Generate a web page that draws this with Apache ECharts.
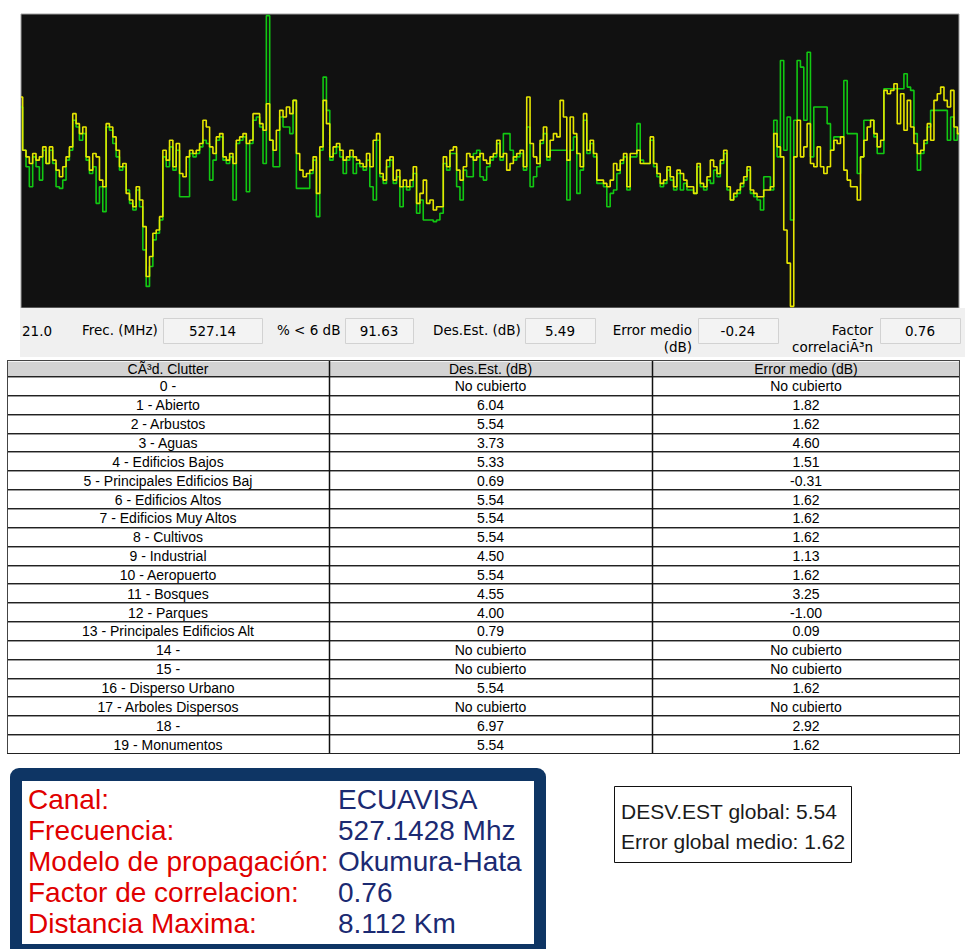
<!DOCTYPE html>
<html><head><meta charset="utf-8">
<script src="https://cdn.jsdelivr.net/npm/echarts@6/dist/echarts.min.js"></script>
<style>html,body{margin:0;padding:0;background:#fff}#c{width:965px;height:949px}</style>
</head><body><div id="c"></div>
<script>
const yellowLevels = [
63.5,47.5,45.5,43.5,46.5,44.5,45.5,48.5,43.5,48.5,
44.5,41.5,39.5,42.5,45.5,48.5,58.5,55.5,52.5,54.5,
45.5,41.5,46.5,45.5,38.5,36.5,55.5,54.5,51.5,47.5,
42.5,43.5,34.5,32.5,30.5,36.5,32.5,24.5,9.5,15.5,
22.5,23.5,27.5,47.5,44.5,50.5,42.5,49.5,40.5,39.5,
45.5,47.5,46.5,47.5,49.5,56.5,54.5,48.5,46.5,51.5,
52.5,45.5,44.5,46.5,43.5,50.5,51.5,52.5,49.5,50.5,
58.5,58.5,55.5,53.5,61.5,50.5,47.5,53.5,59.5,57.5,
60.5,58.5,62.5,46.5,41.5,39.5,40.5,41.5,45.5,34.5,
48.5,62.5,55.5,
45.5,48.5,49.5,47.5,44.5,45.5,47.5,45.5,44.5,43.5,
42.5,46.5,42.5,50.5,52.5,40.5,38.5,44.5,45.5,38.5,
41.5,36.5,38.5,36.5,38.5,42.5,31.5,34.5,38.5,31.5,
32.5,29.5,30.5,30.5,45.5,42.5,47.5,48.5,41.5,38.5,
42.5,46.5,45.5,44.5,45.5,46.5,44.5,43.5,45.5,46.5,
50.5,45.5,46.5,41.5,43.5,45.5,46.5,47.5,42.5,63.5,
49.5,45.5,43.5,50.5,54.5,45.5,50.5,52.5,51.5,62.5,
57.5,44.5,57.5,52.5,46.5,42.5,58.5,47.5,50.5,46.5,
38.5,38.5,37.5,36.5,38.5,43.5,41.5,44.5,46.5,36.5,
46.5,46.5,47.5,43.5,43.5,43.5,
51.5,43.5,40.5,37.5,38.5,42.5,39.5,36.5,41.5,40.5,
38.5,36.5,36.5,34.5,43.5,37.5,36.5,39.5,44.5,42.5,
40.5,44.5,47.5,36.5,32.5,34.5,35.5,37.5,39.5,42.5,
35.5,34.5,33.5,33.5,35.5,35.5,36.5,52.5,48.5,45.5,
23.5,13.5,0.5,45.5,56.5,45.5,48.5,55.5,43.5,42.5,
48.5,42.5,40.5,42.5,47.5,50.5,49.5,51.5,41.5,38.5,
36.5,36.5,32.5,45.5,50.5,54.5,56.5,52.5,48.5,50.5,
65.5,64.5,65.5,67.5,55.5,64.5,53.5,62.5,54.5,49.5,
46.5,47.5,50.5,55.5,50.5,62.5,64.5,66.5,62.5,60.5,
65.5,54.5,52.5
];
const greenLevels = [
60.5,47.5,42.5,36.5,45.5,42.5,38.5,47.5,43.5,47.5,
43.5,36.5,36,38.5,44.5,47.5,56.5,54.5,50.5,52.5,
44.5,40.5,42.5,31.5,36.5,29,54.5,53.5,49.5,45.5,
41.5,42.5,35.5,31.5,29.5,35.5,30.5,17.5,6.5,12.5,
20.5,22.5,26.5,45.5,42.5,48.5,41.5,47.5,33.5,33.5,
33.5,46.5,45.5,46.5,48.5,50.5,49.5,38.5,44.5,50.5,
51.5,44.5,43.5,45.5,32.5,49.5,50.5,51.5,35,49.5,
56.5,57.5,54.5,43.5,88,50.5,42.5,42.5,57.5,54.5,
54.5,52.5,62.5,36,36,36,36,40.5,44.5,27.5,
47.5,69.5,59.5,
44.5,46.5,48.5,45.5,40.5,44.5,45.5,40.5,43.5,42.5,
41.5,44.5,36.5,32.5,50.5,39.5,37.5,42.5,44.5,37.5,
39.5,30.5,36.5,35.5,36.5,40.5,28.5,32.5,26.5,26.5,
26.5,26,26.5,28.5,43.5,41.5,46.5,46.5,36.5,32.5,
41.5,39.5,39.5,46.5,47.5,39.5,38.5,42.5,44.5,45.5,
49.5,44.5,52.5,52.5,47.5,44.5,45.5,46.5,41.5,54.5,
36.5,39.5,42.5,49.5,52.5,44.5,47.5,47.5,47.5,47.5,
47.5,32.5,47.5,51.5,34.5,41.5,56.5,46.5,49.5,45.5,
37.5,37.5,36.5,30.5,34.5,35.5,40.5,43.5,45.5,35.5,
45.5,45.5,55.5,44.5,43.5,43.5,
50.5,42.5,39.5,36.5,37.5,41.5,38.5,35.5,40.5,35.5,
37.5,35.5,35.5,34.5,42.5,36.5,35.5,38.5,37.5,41.5,
39.5,43.5,46.5,35.5,32.5,33.5,34.5,36.5,38.5,41.5,
34.5,33.5,32.5,29.5,39.5,39.5,35.5,56.5,45.5,74.5,
47.5,57.5,26.5,56.5,74.5,72.5,56.5,77,45.5,60.5,
60.5,60.5,60.5,55.5,47.5,51.5,51.5,51.5,68.5,52.5,
52.5,52.5,40.5,45.5,56.5,56.5,56.5,51.5,46.5,46.5,
66,66,66,66,66,66,70.5,66.5,65.5,52.5,
41.5,46.5,49.5,54.5,59.5,59.5,59.5,59.5,59.5,50.5,
57.5,50.5,52.5
];

// Status bar
const statusLead = '21.0';
const statusFields = [
  { label: ['Frec. (MHz)'], value: '527.14' },
  { label: ['% < 6 dB'], value: '91.63' },
  { label: ['Des.Est. (dB)'], value: '5.49' },
  { label: ['Error medio', '(dB)'], value: '-0.24' },
  { label: ['Factor', 'correlaciÃ³n'], value: '0.76' }
];

// Table
const tableHeaders = ['CÃ³d. Clutter', 'Des.Est. (dB)', 'Error medio (dB)'];
const clutterNames = ['0 -', '1 - Abierto', '2 - Arbustos', '3 - Aguas', '4 - Edificios Bajos',
  '5 - Principales Edificios Baj', '6 - Edificios Altos', '7 - Edificios Muy Altos', '8 - Cultivos',
  '9 - Industrial', '10 - Aeropuerto', '11 - Bosques', '12 - Parques', '13 - Principales Edificios Alt',
  '14 -', '15 -', '16 - Disperso Urbano', '17 - Arboles Dispersos', '18 -', '19 - Monumentos'];
const desEstValues = ['No cubierto', '6.04', '5.54', '3.73', '5.33', '0.69', '5.54', '5.54', '5.54', '4.50',
  '5.54', '4.55', '4.00', '0.79', 'No cubierto', 'No cubierto', '5.54', 'No cubierto', '6.97', '5.54'];
const errorMedioValues = ['No cubierto', '1.82', '1.62', '4.60', '1.51', '-0.31', '1.62', '1.62', '1.62', '1.13',
  '1.62', '3.25', '-1.00', '0.09', 'No cubierto', 'No cubierto', '1.62', 'No cubierto', '2.92', '1.62'];

// Info boxes
const infoLabels = ['Canal:', 'Frecuencia:', 'Modelo de propagación:', 'Factor de correlacion:', 'Distancia Maxima:'];
const infoValues = ['ECUAVISA', '527.1428 Mhz', 'Okumura-Hata', '0.76', '8.112 Km'];
const globalLines = ['DESV.EST global: 5.54', 'Error global medio: 1.62'];

const sampleIndex = yellowLevels.map((_, i) => i);

const g = [];
function txt(x, y, s, font, fill, align, valign) {
  g.push({ type: 'text', x: x, y: y, silent: true, z: 10,
    style: { text: s, font: font, fill: fill, textAlign: align || 'left', textVerticalAlign: valign || 'middle',
      align: align || 'left', verticalAlign: valign || 'middle' } });
}
function rect(x, y, w, h, fill, stroke, lw, r) {
  g.push({ type: 'rect', silent: true, z: 5, shape: { x: x, y: y, width: w, height: h, r: r || 0 },
    style: { fill: fill || 'none', stroke: stroke || 'none', lineWidth: lw || 1 } });
}
function line(x1, y1, x2, y2, stroke, lw) {
  g.push({ type: 'line', silent: true, z: 6, shape: { x1: x1, y1: y1, x2: x2, y2: y2 },
    style: { stroke: stroke, lineWidth: lw || 1 } });
}

// status bar
const sFont = '13.5px "DejaVu Sans"';
rect(20, 308, 945, 49, '#f0f0f0');
txt(22, 331, statusLead, sFont, '#000');
const boxes = [[163, 318, 99, 25], [345, 318, 68, 25], [525, 318, 70, 25], [698, 318, 80, 25], [880, 318, 80, 25]];
const labelPos = [[82, 'left'], [277, 'left'], [433, 'left'], [692, 'right'], [873, 'right']];
statusFields.forEach((f, i) => {
  const b = boxes[i];
  rect(b[0] + 0.5, b[1] + 0.5, b[2], b[3], '#f3f3f3', '#d2d2d2', 1);
  txt(b[0] + b[2] / 2, b[1] + 13, f.value, sFont, '#000', 'center');
  txt(labelPos[i][0], 330, f.label[0], sFont, '#000', labelPos[i][1]);
  if (f.label.length > 1) txt(labelPos[i][0], 347, f.label[1], sFont, '#000', labelPos[i][1]);
});

// table
const tFont = '14px "Liberation Sans"';
const tX0 = 7, tX1 = 960, tY0 = 360, hdrH = 16, rowH = 18.85;
const colX = [tX0, 329, 652, tX1];
const tY1 = tY0 + hdrH + rowH * clutterNames.length;
rect(tX0, tY0, tX1 - tX0, tY1 - tY0, '#ffffff');
rect(tX0, tY0, tX1 - tX0, hdrH, '#d3d3d3');
line(tX0, tY0 + 1.5, tX1, tY0 + 1.5, '#f4f4f4', 1);
tableHeaders.forEach((h, c) => txt((colX[c] + colX[c + 1]) / 2, tY0 + hdrH / 2 + 1, h, tFont, '#000', 'center'));
for (let i = 0; i <= clutterNames.length; i++) {
  const y = Math.round(tY0 + hdrH + rowH * i) + 0.5;
  line(tX0, y, tX1, y, '#222', 1);
  if (i < clutterNames.length) line(tX0, y + 1, tX1, y + 1, '#9a9a9a', 1);
}
[colX[1], colX[2]].forEach(x => line(x + 0.5, tY0, x + 0.5, tY1, '#111', 1.5));
line(tX0 + 0.5, tY0, tX0 + 0.5, tY1, '#444', 1);
line(tX1 - 0.5, tY0, tX1 - 0.5, tY1, '#444', 1);
line(tX0, tY0 + 0.5, tX1, tY0 + 0.5, '#444', 1);
clutterNames.forEach((n, i) => {
  const y = tY0 + hdrH + rowH * (i + 0.5) + 1;
  txt((colX[0] + colX[1]) / 2, y, n, tFont, '#000', 'center');
  txt((colX[1] + colX[2]) / 2, y, desEstValues[i], tFont, '#000', 'center');
  txt((colX[2] + colX[3]) / 2, y, errorMedioValues[i], tFont, '#000', 'center');
});

// info box
rect(10, 768, 536, 200, '#0e3564', null, 1, 9);
rect(22, 781, 512, 163, '#ffffff');
const iFont = '28px "Liberation Sans"';
infoLabels.forEach((l, i) => {
  const y = 799 + i * 31;
  txt(28, y, l, iFont, '#e00000');
  txt(338, y, infoValues[i], iFont, '#1b2a72');
});

// global box
rect(614.5, 786.5, 237, 76, '#ffffff', '#111', 1);
globalLines.forEach((l, i) => txt(621, 811 + i * 30, l, '21px "Liberation Sans"', '#1a1a1a'));

const chart = echarts.init(document.getElementById('c'), null, { renderer: 'svg' });
chart.setOption({
  animation: false,
  backgroundColor: '#ffffff',
  grid: { left: 21, top: 14, width: 938, height: 294, show: true, backgroundColor: '#111111', borderColor: '#a0a0a0', borderWidth: 1 },
  xAxis: { type: 'category', data: sampleIndex, boundaryGap: false, show: false },
  yAxis: { type: 'value', min: 0, max: 88.5, show: false },
  series: [
    { type: 'line', name: 'Predicción', data: greenLevels, step: 'middle', symbol: 'none', silent: true,
      lineStyle: { color: '#12c812', width: 1.6 } },
    { type: 'line', name: 'Medición', data: yellowLevels, step: 'middle', symbol: 'none', silent: true,
      lineStyle: { color: '#e6e600', width: 1.6 } }
  ],
  graphic: g
});
</script>
</body></html>
